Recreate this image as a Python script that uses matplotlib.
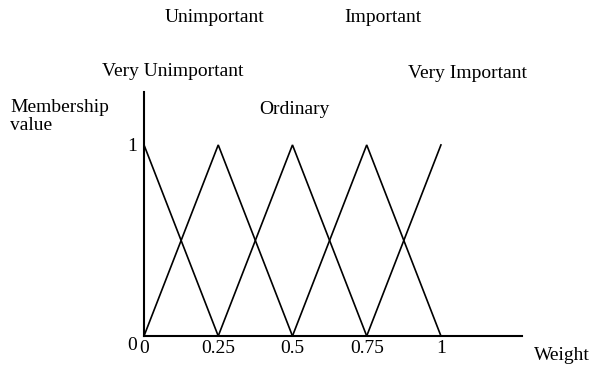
import matplotlib
matplotlib.use("Agg")
import matplotlib.pyplot as plt
import matplotlib.transforms as mtransforms

# ============================================================
# Data
# ============================================================

TERMS = ["Very Unimportant", "Unimportant", "Ordinary", "Important", "Very Important"]
TERM_X = [
    [0.0, 0.25],
    [0.0, 0.25, 0.5],
    [0.25, 0.5, 0.75],
    [0.5, 0.75, 1.0],
    [0.75, 1.0],
]
TERM_Y = [
    [1, 0],
    [0, 1, 0],
    [0, 1, 0],
    [0, 1, 0],
    [0, 1],
]

X_TICKS = [0, 0.25, 0.5, 0.75, 1]
X_TICK_LABELS = ["0", "0.25", "0.5", "0.75", "1"]
Y_TICKS = [0, 1]
Y_TICK_LABELS = ["0", "1"]

# label positions in figure pixels (x centre, y centre from top)
LABEL_POS = {
    "Very Unimportant": (173, 72),
    "Unimportant": (215, 18),
    "Ordinary": (294, 110),
    "Important": (383, 18),
    "Very Important": (467, 73),
}

# ============================================================
# Plot
# ============================================================

plt.rcParams["font.family"] = ["Liberation Serif", "DejaVu Serif"]
FS = 14

W, H = 592, 367
fig = plt.figure(figsize=(W / 100, H / 100), dpi=100)
ax = fig.add_axes([144 / W, 1 - 336 / H, (522 - 144) / W, (336 - 92) / H])

for xs, ys in zip(TERM_X, TERM_Y):
    ax.plot(xs, ys, color="black", linewidth=1.2, solid_joinstyle="miter")

ax.set_xlim(0, 1.273)
ax.set_ylim(0, 1.277)

for side in ["top", "right"]:
    ax.spines[side].set_visible(False)
for side in ["left", "bottom"]:
    ax.spines[side].set_linewidth(1.5)

ax.set_xticks(X_TICKS)
ax.set_xticklabels(X_TICK_LABELS)
ax.set_yticks(Y_TICKS)
ax.set_yticklabels(Y_TICK_LABELS)
ax.tick_params(axis="both", length=0, labelsize=FS)
ax.tick_params(axis="x", pad=3)
ax.tick_params(axis="y", pad=5)

# the "0" on the y axis sits a bit lower than the baseline
lbl0 = ax.get_yticklabels()[0]
lbl0.set_transform(lbl0.get_transform() + mtransforms.ScaledTranslation(0, -8 / 100, fig.dpi_scale_trans))

for term in TERMS:
    px, py = LABEL_POS[term]
    fig.text(px / W, 1 - py / H, term, ha="center", va="center", fontsize=FS)

fig.text(10 / W, 1 - 107 / H, "Membership", ha="left", va="center", fontsize=FS)
fig.text(10 / W, 1 - 126 / H, "value", ha="left", va="center", fontsize=FS)
fig.text(562 / W, 1 - 355 / H, "Weight", ha="center", va="center", fontsize=FS)

plt.savefig("out.png", dpi=100)
